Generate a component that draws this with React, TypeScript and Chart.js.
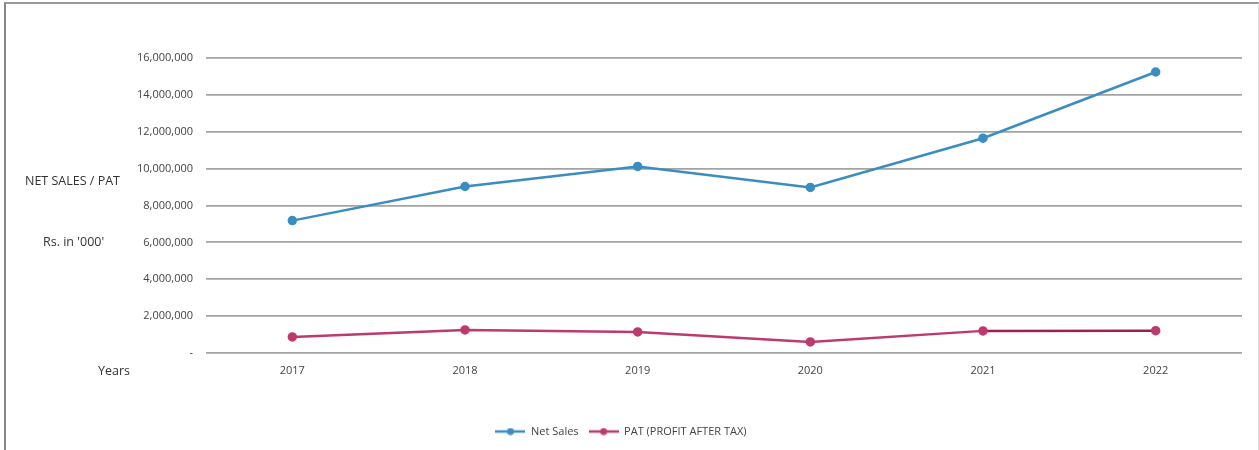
import React, { useEffect, useRef } from "react";
import { Chart, registerables } from "chart.js";

Chart.register(...registerables);

const years = ["2017", "2018", "2019", "2020", "2021", "2022"];
const netSales = [7180000, 9030000, 10120000, 8980000, 11650000, 15240000];
const pat = [870000, 1250000, 1140000, 600000, 1200000, 1210000];
const yTicks = [0, 2000000, 4000000, 6000000, 8000000, 10000000, 12000000, 14000000, 16000000];

const FONT = "'Open Sans', 'Noto Sans', sans-serif";
const BLUE = "#3a8dc0";
const PINK = "#bd3a6f";
const PINK_DARK = "#a01f52";

function legendIcon(color: string): HTMLCanvasElement {
  const c = document.createElement("canvas");
  c.width = 30;
  c.height = 8;
  const g = c.getContext("2d")!;
  g.strokeStyle = color;
  g.lineWidth = 2.5;
  g.beginPath();
  g.moveTo(0, 4);
  g.lineTo(30, 4);
  g.stroke();
  g.fillStyle = color;
  g.beginPath();
  g.arc(15, 4, 3.5, 0, Math.PI * 2);
  g.fill();
  return c;
}

export default function App() {
  const ref = useRef<HTMLCanvasElement | null>(null);

  useEffect(() => {
    if (!ref.current) return;
    const icons = [legendIcon(BLUE), legendIcon(PINK)];
    const chart = new Chart(ref.current, {
      type: "line",
      data: {
        labels: years,
        datasets: [
          {
            label: "Net Sales",
            data: netSales,
            borderColor: BLUE,
            backgroundColor: BLUE,
            borderWidth: 2.5,
            pointRadius: 3.5,
            pointBackgroundColor: BLUE,
            pointBorderColor: BLUE,
            tension: 0,
          },
          {
            label: "PAT (PROFIT AFTER TAX)",
            data: pat,
            borderColor: PINK,
            backgroundColor: PINK,
            borderWidth: 2.5,
            pointRadius: 3.5,
            pointBackgroundColor: PINK,
            pointBorderColor: PINK,
            tension: 0,
            segment: {
              borderColor: (ctx: any) => (ctx.p0DataIndex >= 4 ? PINK_DARK : PINK),
            },
          },
        ],
      },
      options: {
        animation: false,
        responsive: false,
        maintainAspectRatio: false,
        layout: { padding: { top: 58, right: 17, bottom: 3, left: 0 } },
        scales: {
          x: {
            type: "category",
            offset: true,
            grid: { display: false, drawTicks: false },
            border: { display: false },
            ticks: {
              padding: 11,
              color: "#444",
              font: { family: FONT, size: 11 },
              maxRotation: 0,
            },
            afterFit: (scale: any) => {
              scale.height = 63;
            },
          },
          y: {
            min: 0,
            max: 16000000,
            afterBuildTicks: (scale: any) => {
              scale.ticks = yTicks.map((v) => ({ value: v }));
            },
            grid: { color: "#a3a3a3", lineWidth: 1.8, drawTicks: false },
            border: { display: false },
            ticks: {
              padding: 13,
              color: "#444",
              font: { family: FONT, size: 11 },
              callback: (v: any) => (Number(v) === 0 ? "-" : Number(v).toLocaleString("en-US")),
            },
            afterFit: (scale: any) => {
              scale.width = 206;
            },
          },
        },
        plugins: {
          legend: {
            position: "bottom",
            labels: {
              color: "#444",
              font: { family: FONT, size: 11 },
              padding: 10,
              usePointStyle: true,
              pointStyleWidth: 30,
              generateLabels: (ch: any) =>
                ch.data.datasets.map((ds: any, i: number) => ({
                  text: ds.label,
                  pointStyle: icons[i],
                  fillStyle: ds.borderColor,
                  strokeStyle: ds.borderColor,
                  lineWidth: 0,
                  hidden: false,
                  datasetIndex: i,
                  fontColor: "#444",
                })),
            },
          },
          tooltip: { enabled: false },
        },
      },
    });
    return () => chart.destroy();
  }, []);

  const labelStyle: React.CSSProperties = {
    position: "absolute",
    fontFamily: FONT,
    fontSize: 12.5,
    color: "#333",
    whiteSpace: "nowrap",
    lineHeight: "14px",
  };

  return (
    <div
      style={{
        position: "fixed",
        left: 0,
        top: 0,
        width: 1259,
        height: 450,
        background: "#fff",
        overflow: "hidden",
      }}
    >
      <div
        style={{
          position: "absolute",
          left: 4,
          top: 2,
          width: 1252,
          height: 460,
          borderLeft: "2px solid #888",
          borderTop: "2px solid #999",
          borderRight: "1px solid #ddd",
        }}
      />
      <canvas ref={ref} width={1259} height={450} style={{ position: "absolute", left: 0, top: 0 }} />
      <div style={{ ...labelStyle, left: 25, top: 174 }}>NET SALES / PAT</div>
      <div style={{ ...labelStyle, left: 43, top: 235 }}>Rs. in '000'</div>
      <div style={{ ...labelStyle, left: 98, top: 364 }}>Years</div>
    </div>
  );
}
